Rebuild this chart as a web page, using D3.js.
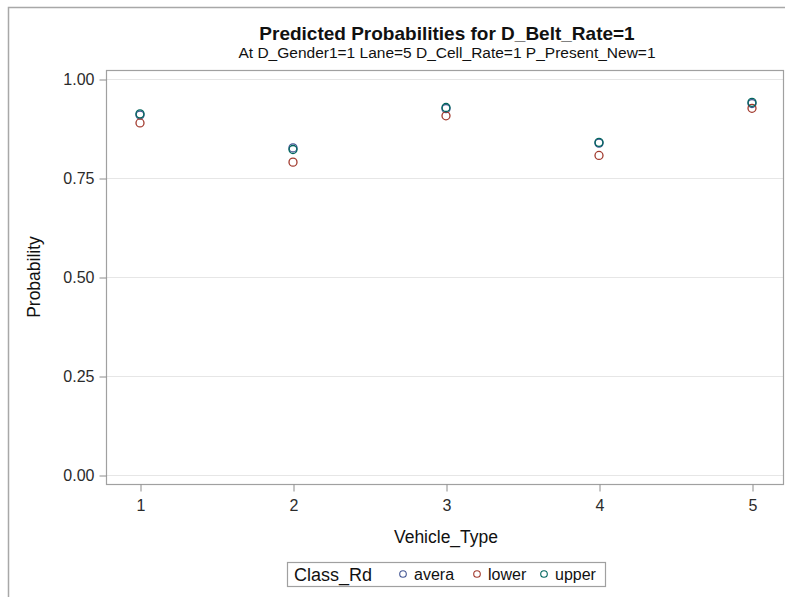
<!DOCTYPE html>
<html>
<head>
<meta charset="utf-8">
<script src="https://cdn.jsdelivr.net/npm/d3@7"></script>
<style>
  html, body { margin: 0; padding: 0; background: #fff; }
  svg { display: block; font-family: "Liberation Sans", Arial, sans-serif; }
</style>
</head>
<body>
<svg id="chart" width="785" height="597"></svg>
<script>
// valeurs
const vehicleTypes = [1, 2, 3, 4, 5];
const avera = [0.909, 0.826, 0.925, 0.838, 0.938];
const lower = [0.889, 0.790, 0.907, 0.807, 0.926];
const upper = [0.912, 0.822, 0.928, 0.840, 0.941];
const yTicks = [0, 0.25, 0.5, 0.75, 1.0];

const series = [
  { key: "avera", values: avera, color: "#445694" },
  { key: "lower", values: lower, color: "#A23A2E" },
  { key: "upper", values: upper, color: "#01665E" }
];

const svg = d3.select("#chart");
const M = { left: 106, right: 783, top: 70, bottom: 484 };

// cadre extérieur
svg.append("rect")
  .attr("x", 8.5).attr("y", 7.5).attr("width", 800).attr("height", 620)
  .attr("fill", "none").attr("stroke", "#a8a8a8").attr("stroke-width", 1.5);

const x = d3.scaleLinear().domain([1, 5]).range([140, 752]);
const y = d3.scaleLinear().domain([0, 1]).range([475, 79]);

// grille
svg.append("g").selectAll("line")
  .data(yTicks)
  .join("line")
    .attr("x1", M.left).attr("x2", M.right)
    .attr("y1", (d) => y(d) + 0.5).attr("y2", (d) => y(d) + 0.5)
    .attr("stroke", "#e6e6e6").attr("stroke-width", 1);

// cadre du graphique
svg.append("rect")
  .attr("x", M.left + 0.5).attr("y", M.top + 0.5)
  .attr("width", M.right - M.left).attr("height", M.bottom - M.top)
  .attr("fill", "none").attr("stroke", "#a0a0a0").attr("stroke-width", 1.2);

// axes
const yAxis = svg.append("g")
  .attr("transform", `translate(${M.left + 0.5},0.5)`)
  .call(d3.axisLeft(y).tickValues(yTicks).tickFormat(d3.format(".2f")).tickSize(7).tickPadding(5));
const xAxis = svg.append("g")
  .attr("transform", `translate(0.5,${M.bottom + 0.5})`)
  .call(d3.axisBottom(x).tickValues(vehicleTypes).tickFormat(d3.format("d")).tickSize(7).tickPadding(8));

[yAxis, xAxis].forEach((g) => {
  g.select(".domain").remove();
  g.selectAll(".tick line").attr("stroke", "#8c8c8c");
  g.selectAll(".tick text")
    .attr("fill", "#2b2b2b")
    .attr("font-size", "16px")
    .attr("font-family", "'Liberation Sans', Arial, sans-serif");
});

// points
series.forEach((s) => {
  svg.append("g").selectAll("circle")
    .data(s.values.map((v, i) => [vehicleTypes[i], v]))
    .join("circle")
      .attr("cx", (d) => x(d[0]))
      .attr("cy", (d) => y(d[1]))
      .attr("r", 4)
      .attr("fill", "none")
      .attr("stroke", s.color)
      .attr("stroke-width", 1.3);
});

// titres
svg.append("text")
  .attr("x", 447).attr("y", 40)
  .attr("text-anchor", "middle")
  .attr("font-size", "19px").attr("font-weight", "bold")
  .attr("fill", "#111")
  .text("Predicted Probabilities for D_Belt_Rate=1");
svg.append("text")
  .attr("x", 447).attr("y", 58)
  .attr("text-anchor", "middle")
  .attr("font-size", "15.5px")
  .attr("fill", "#111")
  .text("At D_Gender1=1 Lane=5 D_Cell_Rate=1 P_Present_New=1");

svg.append("text")
  .attr("transform", "translate(40,277) rotate(-90)")
  .attr("text-anchor", "middle")
  .attr("font-size", "17.5px").attr("fill", "#111")
  .text("Probability");
svg.append("text")
  .attr("x", 446).attr("y", 543)
  .attr("text-anchor", "middle")
  .attr("font-size", "17.5px").attr("fill", "#111")
  .text("Vehicle_Type");

// légende
const leg = svg.append("g");
leg.append("rect")
  .attr("x", 287.5).attr("y", 562.5).attr("width", 318).attr("height", 24)
  .attr("fill", "#fff").attr("stroke", "#a0a0a0").attr("stroke-width", 1.2);
leg.append("text")
  .attr("x", 294).attr("y", 581)
  .attr("font-size", "18px").attr("fill", "#111")
  .text("Class_Rd");
const legX = [403, 477, 544];
series.forEach((s, i) => {
  leg.append("circle")
    .attr("cx", legX[i]).attr("cy", 574).attr("r", 3.3)
    .attr("fill", "none").attr("stroke", s.color).attr("stroke-width", 1.1);
  leg.append("text")
    .attr("x", legX[i] + 11).attr("y", 580)
    .attr("font-size", "16px").attr("fill", "#111")
    .text(s.key);
});
</script>
</body>
</html>
